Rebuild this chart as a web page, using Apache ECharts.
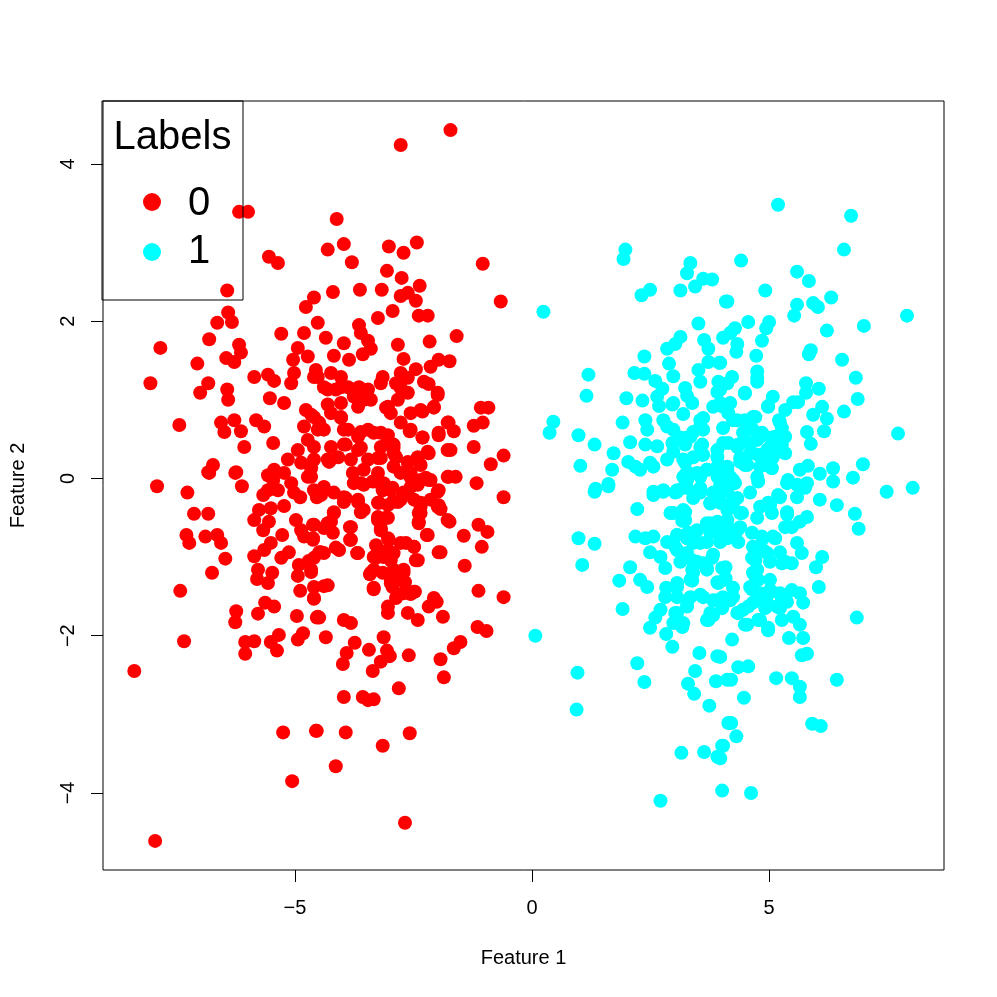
<!DOCTYPE html>
<html>
<head>
<meta charset="utf-8">
<script src="https://cdn.jsdelivr.net/npm/echarts@6.0.0/dist/echarts.min.js"></script>
<style>
  html, body { margin: 0; padding: 0; background: #fff; }
  #main { width: 997px; height: 997px; }
</style>
</head>
<body>
<div id="main"></div>
<script>
// points as [Feature 1, Feature 2]
const label0Points = [
  [-1.72,4.43],[-2.77,4.24],[-6.18,3.39],[-5.99,3.39],[-4.12,3.30],[-4.31,2.91],[-3.97,2.98],[-3.02,2.95],[-2.71,2.87],[-2.43,3.00],
  [-3.80,2.75],[-1.04,2.73],[-5.55,2.82],[-5.36,2.74],[-6.43,2.39],[-6.41,2.11],[-6.33,1.99],[-6.64,1.98],[-5.29,1.84],[-6.81,1.77],
  [-7.84,1.66],[-6.18,1.70],[-6.14,1.60],[-6.45,1.53],[-6.28,1.48],[-7.06,1.46],[-8.05,1.21],[-6.83,1.21],[-7.00,1.09],[-6.43,1.13],
  [-6.41,1.00],[-5.86,1.29],[-5.57,1.32],[-5.44,1.24],[-5.53,1.02],[-5.23,0.96],[-7.44,0.68],[-6.56,0.71],[-6.49,0.59],[-6.28,0.74],
  [-6.14,0.60],[-5.82,0.74],[-5.65,0.66],[-6.07,0.40],[-5.46,0.45],[-6.73,0.17],[-6.83,0.08],[-6.24,0.08],[-5.44,0.11],[-5.57,0.04],
  [-4.77,2.18],[-4.60,2.30],[-4.81,1.85],[-4.52,1.98],[-4.94,1.66],[-4.73,1.55],[-5.04,1.51],[-5.02,1.34],[-5.08,1.21],[-4.60,1.29],
  [-4.56,1.38],[-3.06,2.64],[-2.75,2.55],[-2.37,2.45],[-2.62,2.36],[-2.77,2.32],[-2.45,2.26],[-3.17,2.40],[-3.63,2.40],[-4.20,2.37],
  [-0.66,2.25],[-2.94,2.13],[-3.25,2.04],[-2.39,2.07],[-2.20,2.07],[-3.65,1.95],[-3.61,1.85],[-4.35,1.79],[-3.97,1.72],[-3.46,1.75],
  [-3.40,1.65],[-3.57,1.58],[-2.83,1.70],[-2.16,1.74],[-1.59,1.81],[-4.18,1.56],[-3.86,1.51],[-2.71,1.52],[-1.97,1.51],[-1.74,1.49],
  [-2.14,1.42],[-3.15,1.29],[-2.45,1.39],[-2.77,1.34],[-2.62,1.28],[-4.52,1.29],[-4.24,1.34],[-4.03,1.29],[-4.39,1.16],[-4.14,1.13],
  [-3.88,1.16],[-3.65,1.16],[-3.46,1.13],[-3.76,1.04],[-3.55,1.00],[-2.87,1.21],[-2.77,1.15],[-2.18,1.20],[-1.99,1.06],[-2.31,0.85],
  [-2.07,0.90],[-1.08,0.90],[-0.92,0.90],[-3.08,0.90],[-2.98,0.83],[-4.31,0.94],[-4.03,0.77],[-4.66,0.81],[-4.49,0.71],[-1.23,0.67],
  [-1.04,0.71],[-1.76,0.71],[-1.65,0.60],[-1.97,0.55],[-2.31,0.52],[-2.58,0.60],[-1.23,0.40],[-1.72,0.36],[-2.18,0.32],[-0.60,0.29],
  [-0.87,0.18],[-3.97,0.62],[-3.61,0.59],[-3.34,0.58],[-3.04,0.55],[-3.97,0.43],[-3.61,0.39],[-3.19,0.40],[-2.92,0.43],[-4.60,0.24],
  [-4.28,0.21],[-3.82,0.24],[-3.25,0.26],[-2.92,0.32],[-2.62,0.20],[-2.35,0.17],
  [-1.76,0.02],[-1.61,0.02],[-1.17,-0.06],[-0.60,-0.24],[-2.14,-0.02],[-1.99,-0.17],[-2.35,-0.31],[-1.97,-0.34],[-1.93,-0.39],[-2.39,-0.44],
  [-2.39,-0.55],[-1.74,-0.55],[-2.22,-0.72],[-1.44,-0.73],[-1.13,-0.59],[-0.94,-0.68],[-1.06,-0.87],[-1.97,-0.94],[-1.42,-1.11],[-1.13,-1.43],
  [-0.60,-1.51],[-1.15,-1.89],[-0.96,-1.94],[-1.88,-1.76],[-2.18,-1.63],[-2.01,-1.57],[-2.41,-1.80],[-2.62,-1.71],[-2.56,-1.47],[-2.47,-1.44],
  [-2.87,-1.52],[-3.04,-1.63],[-3.04,-1.71],[-2.45,-1.04],[-2.66,-0.82],[-2.49,-0.87],[-2.71,-1.20],[-2.68,-1.32],[-2.81,-2.67],[-3.13,-2.02],
  [-3.06,-2.19],[-3.00,-2.26],[-3.19,-2.33],[-3.36,-2.45],[-3.44,-2.18],[-3.74,-2.09],[-3.91,-2.22],[-3.99,-2.36],[-4.35,-2.02],[-4.49,-1.77],
  [-3.97,-1.80],[-3.82,-1.84],[-2.60,-2.25],[-1.93,-2.30],[-1.65,-2.16],[-1.51,-2.08],[-1.86,-2.53],[-3.97,-2.78],[-3.57,-2.78],[-3.46,-2.82],
  [-3.34,-2.81],[-4.54,-3.21],[-3.93,-3.23],[-2.58,-3.24],[-3.15,-3.40],[-4.14,-3.66],[-2.68,-4.38],
  [-3.34,-1.16],[-3.15,-1.20],[-2.98,-1.29],[-2.83,-1.20],[-2.71,-1.16],[-2.94,-1.38],[-3.42,-1.22],[-3.34,-1.41],[-3.04,-0.91],[-3.25,-0.91],
  [-3.29,-1.01],[-3.25,-0.53],[-3.08,-0.50],[-3.19,-0.63],[-3.02,-0.78],[-2.98,-1.04],[-4.39,-1.37],[-4.60,-1.52],[-4.52,-1.76],[-4.45,-0.94],
  [-4.14,-0.88],[-4.07,-0.91],[-3.69,-0.95],[-3.84,-0.62],[-3.84,-0.78],[-4.18,-0.43],[-4.24,-0.55],[-4.39,-0.63],[-4.62,-0.59],[-4.62,-0.76],
  [-4.20,-0.69],[-3.97,-0.30],[-3.61,-0.43],[-3.67,-0.27],[-3.97,-0.24],[-4.60,-1.01],[-4.66,-1.16],[-3.76,-0.06],[-3.55,-0.08],[-3.29,-0.04],
  [-3.15,-0.15],[-2.94,-0.12],[-2.83,-0.30],[-2.77,-0.27],[-2.66,-0.18],[-2.41,-0.08],[-2.24,0.01],[-2.56,0.01],[-3.23,-0.31],[-3.04,-0.34],
  [-4.60,-0.15],[-4.45,-0.21],[-4.66,0.02],
  [-7.91,-0.10],[-7.27,-0.18],[-7.13,-0.45],[-6.83,-0.45],[-7.29,-0.72],[-7.23,-0.82],[-6.89,-0.74],[-6.64,-0.72],[-6.56,-0.82],[-6.47,-1.02],
  [-6.75,-1.20],[-7.42,-1.43],[-6.24,-1.69],[-6.26,-1.83],[-7.34,-2.07],[-8.39,-2.45],[-6.05,-2.08],[-5.86,-2.07],[-6.05,-2.23],[-5.78,-1.72],
  [-5.63,-1.58],[-5.44,-1.63],[-5.51,-2.08],[-5.34,-1.99],[-5.38,-2.19],[-4.94,-2.05],[-4.83,-1.97],[-4.96,-1.75],[-4.89,-1.43],[-4.60,-1.53],
  [-4.60,-1.38],[-4.54,-1.77],[-5.86,-0.99],[-5.65,-0.91],[-5.51,-0.82],[-5.13,-0.94],[-5.29,-1.01],[-5.78,-1.16],[-5.80,-1.28],[-5.48,-1.20],
  [-5.57,-1.33],[-4.92,-1.10],[-4.71,-1.05],[-4.94,-1.24],[-4.66,-1.19],[-4.49,-0.94],[-5.27,-0.72],[-5.86,-0.53],[-5.67,-0.66],[-5.76,-0.40],
  [-5.55,-0.55],[-5.51,-0.38],[-5.23,-0.35],[-5.67,-0.21],[-5.57,-0.15],[-5.36,-0.15],[-5.08,-0.06],[-5.02,-0.18],[-4.89,-0.24],[-4.73,0.02],
  [-4.54,-0.24],[-4.98,-0.53],[-4.87,-0.66],[-4.81,-0.74],[-4.60,-0.59],[-4.62,-0.78],[-5.25,-3.23],[-4.56,-3.21],[-5.06,-3.85],[-7.95,-4.61],
  [-6.81,0.07],[-6.26,0.07],[-6.12,-0.10],[-5.46,0.04],[-5.46,-0.02],
  [-4.77,0.87],[-4.60,0.78],[-4.81,0.66],[-4.52,0.62],[-4.73,0.49],[-4.60,0.40],[-4.94,0.36],[-5.15,0.24],[-4.87,0.20],[-4.66,0.13],[-5.23,0.07],
  [-4.31,1.13],[-4.03,1.16],[-3.76,1.09],[-3.40,1.00],[-3.67,0.91],[-4.03,0.96],[-4.24,0.83],[-4.03,0.78],[-3.04,0.91],[-2.83,1.00],
  [-2.62,1.09],[-2.56,0.83],[-2.35,0.87],[-2.07,0.91],[-1.99,1.09],[-2.28,1.23],[-3.19,1.21],[-4.39,0.62],[-4.24,0.40],[-3.88,0.62],
  [-3.67,0.53],[-3.46,0.62],[-3.19,0.58],[-3.04,0.49],[-3.93,0.43],[-3.67,0.36],[-2.92,0.39],[-2.77,0.71],[-2.56,0.62],[-2.31,0.52],
  [-1.97,0.58],[-1.78,0.71],[-1.78,0.36],[-4.31,0.24],[-4.09,0.27],[-3.46,0.24],[-3.19,0.26],[-2.87,0.27],[-2.62,0.21],[-2.41,0.27],
  [-2.20,0.34],[-3.78,0.07],[-3.55,0.11],[-3.25,0.07],[-3.61,-0.06],[-3.36,-0.04],[-3.13,-0.06],[-2.92,0.15],[-2.77,0.07],[-2.56,0.07],
  [-2.35,-0.02],[-2.18,-0.02],[-1.97,-0.15],[-1.78,0.02],[-4.39,-0.11],[-4.18,-0.18],[-3.93,-0.25],[-3.67,-0.30],[-3.55,-0.40],[-3.25,-0.31],
  [-2.98,-0.15],[-2.94,-0.30],[-2.71,-0.18],[-2.56,-0.11],[-2.49,-0.27],[-2.35,-0.36],[-2.14,-0.27],[-1.99,-0.36],[-4.18,-0.44],[-4.31,-0.57],
  [-3.82,-0.62],[-3.25,-0.49],[-3.04,-0.50],[-3.19,-0.66],[-2.35,-0.44],[-2.39,-0.57],[-2.20,-0.72],[-1.78,-0.53],[-4.39,-0.95],[-3.82,-0.78],
  [-3.67,-0.95],[-3.29,-0.85],[-3.04,-0.76],[-2.77,-0.82],[-2.49,-0.87],[-3.34,-1.00],[-3.13,-1.00],[-2.92,-0.95],[-2.41,-1.04],[-1.93,-0.94],
  [-3.40,-1.20],[-2.92,-1.16],[-2.98,-1.33],[-2.77,-1.29],[-3.34,-1.39],[-2.71,-1.46],[-2.49,-1.44],[-4.31,-1.36],[-2.07,-1.52]
];

const label1Points = [
  [1.97,2.91],[1.93,2.79],[3.34,2.74],[3.27,2.61],[3.61,2.54],[3.80,2.53],[3.44,2.44],[3.13,2.39],[2.49,2.40],[2.31,2.33],
  [0.24,2.12],[4.09,2.25],[3.51,1.97],[3.13,1.80],[3.02,1.71],[2.85,1.65],[3.63,1.76],[3.72,1.65],[4.03,1.79],[2.37,1.55],
  [2.89,1.46],[2.98,1.30],[3.72,1.48],[3.95,1.47],[3.51,1.38],[1.19,1.32],[1.15,1.05],[2.16,1.34],[2.37,1.33],[2.60,1.24],
  [2.75,1.14],[3.23,1.15],[3.27,1.05],[3.38,0.96],[3.55,1.23],[3.93,1.23],[3.91,1.10],[1.99,1.02],[2.33,0.99],[2.64,1.04],
  [2.68,0.92],[2.96,0.94],[3.19,0.82],[2.77,0.74],[2.85,0.66],[3.82,0.91],[4.03,0.91],[2.39,0.74],[2.43,0.62],[3.55,0.74],
  [3.61,0.62],[3.40,0.59],[4.03,0.64],[0.45,0.72],[0.37,0.58],[0.98,0.55],[1.32,0.43],[1.91,0.71],[2.07,0.46],[1.72,0.32],
  [1.02,0.16],[1.69,0.11],[1.61,-0.07],[1.34,-0.13],[2.39,0.43],[2.64,0.41],[2.96,0.45],[2.98,0.34],[3.27,0.52],[3.23,0.43],
  [3.55,0.40],[3.59,0.30],[2.03,0.21],[2.18,0.15],[2.28,0.11],[2.49,0.20],[2.56,0.15],[2.85,0.24],[3.23,0.20],[3.29,0.07],
  [3.19,0.02],[3.40,0.27],[3.69,0.11],[3.55,0.02],[3.91,0.27],[3.91,0.15],[3.97,-0.02],[2.56,-0.17],[2.77,-0.15],[3.06,-0.17],
  [3.27,-0.12],[3.55,-0.15],
  [5.19,3.48],[6.73,3.34],[6.58,2.91],[4.41,2.77],[5.59,2.63],[5.84,2.51],[4.92,2.39],[4.12,2.25],[5.59,2.21],[5.53,2.07],
  [5.93,2.23],[6.03,2.18],[6.31,2.30],[7.91,2.07],[7.00,1.94],[6.22,1.88],[4.56,1.99],[4.28,1.91],[4.18,1.85],[5.00,1.99],
  [4.94,1.91],[4.85,1.75],[4.33,1.71],[4.31,1.61],[5.88,1.63],[5.84,1.58],[4.73,1.56],[6.54,1.51],[3.97,1.47],[4.75,1.36],
  [4.75,1.28],[4.22,1.29],[4.12,1.21],[6.83,1.28],[5.78,1.21],[5.78,1.09],[6.05,1.14],[4.49,1.08],[5.08,1.04],[4.98,0.92],
  [5.51,0.97],[5.61,0.97],[6.87,1.01],[6.58,0.85],[6.12,0.91],[5.93,0.81],[6.22,0.76],[6.16,0.60],[5.80,0.59],[5.88,0.44],
  [3.97,0.96],[4.18,0.96],[4.24,0.74],[4.49,0.74],[4.66,0.78],[5.21,0.74],[5.27,0.64],[5.34,0.53],[5.13,0.53],[5.02,0.40],
  [5.27,0.43],[4.87,0.55],[4.66,0.62],[4.03,0.45],[4.33,0.40],[4.54,0.46],[4.60,0.32],[4.39,0.21],[4.49,0.17],[4.87,0.27],
  [4.81,0.15],[5.08,0.27],[5.06,0.13],[4.75,0.02],[4.77,-0.04],[5.65,0.11],[5.82,0.16],[6.07,0.06],[6.35,0.13],[6.35,-0.04],
  [6.77,0.01],[6.98,0.18],[7.72,0.57],[8.03,-0.12],[7.48,-0.17],[5.40,-0.02],[5.59,-0.08],[5.80,-0.06],[4.12,0.15],[4.18,0.02],[4.28,-0.06],
  [1.32,-0.17],[1.61,-0.10],[2.56,-0.21],[2.77,-0.17],[3.02,-0.18],[3.19,-0.12],[3.40,-0.25],[3.55,-0.18],[2.22,-0.39],[2.92,-0.44],
  [3.23,-0.43],[3.17,-0.54],[3.76,-0.32],[3.97,-0.31],[4.03,-0.17],[3.97,-0.08],[0.98,-0.76],[1.32,-0.83],[1.06,-1.10],[2.18,-0.74],
  [2.39,-0.76],[2.56,-0.74],[2.49,-0.94],[2.85,-0.81],[3.06,-0.72],[3.27,-0.76],[3.44,-0.69],[3.40,-0.82],[3.69,-0.81],[3.76,-0.57],
  [3.93,-0.62],[3.97,-0.81],[2.71,-1.00],[2.81,-1.14],[3.06,-0.91],[3.19,-1.01],[3.38,-1.16],[3.48,-1.06],[3.80,-1.01],[3.69,-1.14],
  [4.01,-1.14],[2.07,-1.13],[1.84,-1.30],[2.28,-1.29],[2.43,-1.38],[2.83,-1.39],[2.81,-1.51],[3.06,-1.38],[3.38,-1.30],[3.93,-1.33],
  [3.34,-1.51],[3.27,-1.58],[3.61,-1.51],[3.91,-1.55],[4.01,-1.65],[1.91,-1.66],[2.71,-1.67],[2.60,-1.77],[2.49,-1.90],[3.02,-1.71],
  [2.98,-1.84],[3.17,-1.89],[2.83,-1.98],[2.96,-2.14],[3.72,-1.80],[3.82,-1.74],[0.07,-2.00],[2.22,-2.35],[2.37,-2.59],[0.96,-2.47],
  [0.94,-2.94],[3.53,-2.22],[3.91,-2.26],[3.44,-2.45],[3.29,-2.61],[3.42,-2.74],[3.88,-2.58],[4.12,-2.56],[3.74,-2.89],[4.14,-3.11],
  [3.15,-3.49],[3.63,-3.48],[3.91,-3.54],[4.01,-3.40],[4.01,-3.97],[2.71,-4.10],
  [6.07,-0.27],[6.43,-0.34],[6.81,-0.45],[6.89,-0.64],[4.60,-0.18],[5.38,-0.06],[5.59,-0.24],[5.76,-0.12],[5.19,-0.21],[4.98,-0.31],
  [5.06,-0.44],[4.75,-0.50],[5.38,-0.46],[5.48,-0.62],[5.65,-0.55],[5.80,-0.49],[4.12,-0.11],[4.24,-0.27],[4.12,-0.40],[4.39,-0.44],
  [4.03,-0.62],[4.33,-0.66],[4.64,-0.69],[4.87,-0.76],[5.13,-0.76],[4.35,-0.81],[4.12,-0.76],[4.66,-0.87],[4.64,-1.01],[4.87,-0.91],
  [5.23,-0.94],[5.59,-0.82],[5.69,-0.95],[5.48,-1.08],[5.02,-1.06],[5.27,-1.08],[4.75,-1.16],[4.71,-1.25],[6.12,-1.00],[5.99,-1.13],
  [6.05,-1.38],[4.08,-1.13],[4.08,-1.27],[4.24,-1.39],[4.64,-1.41],[5.06,-1.44],[5.48,-1.42],[5.65,-1.46],[5.72,-1.58],[5.27,-1.52],
  [5.23,-1.65],[4.81,-1.55],[4.92,-1.65],[4.56,-1.63],[4.18,-1.55],[4.35,-1.71],[4.49,-1.86],[4.77,-1.80],[4.98,-1.93],[5.51,-1.76],
  [5.65,-1.86],[4.22,-2.05],[5.42,-2.03],[5.72,-2.03],[5.69,-2.25],[5.80,-2.23],[6.85,-1.77],[3.97,-2.27],[4.35,-2.40],[4.56,-2.39],
  [4.20,-2.56],[5.15,-2.54],[5.48,-2.54],[5.65,-2.65],[5.65,-2.78],[6.43,-2.56],[4.47,-2.79],[4.20,-3.11],[4.31,-3.28],[5.91,-3.12],
  [6.09,-3.15],[4.03,-3.40],[3.97,-3.56],[4.62,-4.00],
  [3.97,1.13],[4.49,1.09],[4.75,1.23],[4.98,0.91],[5.23,0.71],[5.34,0.87],[2.98,0.96],[3.61,0.77],[3.55,0.66],[4.14,0.83],
  [4.33,0.74],[4.54,0.66],[4.71,0.78],[4.45,0.58],[4.85,0.58],[5.06,0.52],[5.23,0.55],[2.98,0.62],[3.13,0.52],[3.34,0.53],
  [3.59,0.43],[3.91,0.36],[4.14,0.45],[4.35,0.43],[4.60,0.43],[4.75,0.49],[4.96,0.36],[5.17,0.40],[5.34,0.32],[3.19,0.24],
  [3.61,0.30],[3.27,0.08],[3.48,0.07],[3.69,0.11],[3.93,0.17],[4.12,0.11],[4.39,0.26],[4.54,0.17],[4.77,0.30],[4.87,0.17],
  [5.02,0.15],[4.24,-0.02],[4.03,-0.06],[3.91,0.02],[3.27,-0.02],[3.06,-0.15],[3.40,-0.18],[3.55,-0.12],[3.82,-0.18],[4.12,-0.15],
  [4.33,-0.25],[4.81,-0.36],[5.02,-0.34],[5.23,-0.24],[5.38,-0.43],[3.76,-0.31],[4.24,-0.36],[4.43,-0.44],[2.98,-0.44],[3.19,-0.40],
  [3.23,-0.53],[3.69,-0.57],[3.91,-0.55],[4.12,-0.53],[3.76,-0.69],[3.97,-0.72],[4.22,-0.66],[4.39,-0.62],[4.85,-0.74],[5.08,-0.74],
  [5.34,-0.62],[3.06,-0.72],[3.29,-0.69],[3.48,-0.66],[3.02,-0.87],[3.27,-0.95],[3.55,-0.82],[4.71,-1.04],[4.96,-0.95],[5.34,-1.06],
  [3.13,-1.06],[3.38,-1.04],[3.61,-1.08],[3.82,-0.97],[3.34,-1.29],[3.40,-1.20],[3.69,-1.16],[4.08,-1.29],[3.91,-1.32],[4.66,-1.20],
  [4.77,-1.29],[4.60,-1.38],[5.02,-1.42],[5.23,-1.46],[5.02,-1.29],[3.06,-1.33],[3.06,-1.51],[3.55,-1.48],[3.27,-1.63],[3.82,-1.55],
  [4.03,-1.51],[4.24,-1.51],[4.45,-1.67],[4.66,-1.58],[4.81,-1.46],[4.96,-1.58],[5.17,-1.63],[5.38,-1.57],[3.06,-1.71],[3.19,-1.84],
  [3.69,-1.80],[3.76,-1.71],[4.33,-1.71],[4.54,-1.86],[4.81,-1.80],[4.98,-1.90],[5.27,-1.80]
];

const xTicks = [-5, 0, 5];
const yTicks = [-4, -2, 0, 2, 4];
const xRange = [-9.05, 8.69];
const yRange = [-4.98, 4.80];
const legendTitle = 'Labels';
const legendLabels = ['0', '1'];
const colors = ['#ff0000', '#00ffff'];

const FONT = '"Liberation Sans", Arial, Helvetica, sans-serif';
const fmt = v => (v < 0 ? '\u2212' + Math.abs(v) : String(v));

const chart = echarts.init(document.getElementById('main'));

const option = {
  backgroundColor: '#fff',
  animation: false,
  textStyle: { fontFamily: FONT },
  grid: {
    left: 102, top: 101, width: 842, height: 769,
    show: true, borderColor: '#000', borderWidth: 1, backgroundColor: 'transparent'
  },
  xAxis: {
    type: 'value',
    min: xRange[0], max: xRange[1],
    name: 'Feature 1',
    nameLocation: 'middle',
    nameGap: 78,
    nameTextStyle: { fontSize: 20, color: '#000', fontFamily: FONT },
    axisLine: { show: false, onZero: false },
    splitLine: { show: false },
    axisTick: { show: true, length: 12, customValues: xTicks, lineStyle: { color: '#000', width: 1 } },
    axisLabel: { customValues: xTicks, formatter: fmt, fontSize: 20, color: '#000', margin: 28, fontFamily: FONT }
  },
  yAxis: {
    type: 'value',
    min: yRange[0], max: yRange[1],
    name: 'Feature 2',
    nameLocation: 'middle',
    nameRotate: 90,
    nameGap: 75,
    nameTextStyle: { fontSize: 20, color: '#000', fontFamily: FONT },
    axisLine: { show: false, onZero: false },
    splitLine: { show: false },
    axisTick: { show: true, length: 12, customValues: yTicks, lineStyle: { color: '#000', width: 1 } },
    axisLabel: { customValues: yTicks, formatter: fmt, rotate: 90, fontSize: 20, color: '#000', margin: 25, fontFamily: FONT }
  },
  series: [
    {
      name: legendLabels[0], type: 'scatter', data: label0Points,
      symbol: 'circle', symbolSize: 14, itemStyle: { color: colors[0], opacity: 1 },
      emphasis: { disabled: true }, silent: true
    },
    {
      name: legendLabels[1], type: 'scatter', data: label1Points,
      symbol: 'circle', symbolSize: 14, itemStyle: { color: colors[1], opacity: 1 },
      emphasis: { disabled: true }, silent: true
    }
  ],
  graphic: [
    { type: 'rect', z: 100, silent: true, shape: { x: 102, y: 101, width: 141, height: 199 },
      style: { fill: 'none', stroke: '#000', lineWidth: 1 } },
    { type: 'text', z: 100, silent: true, x: 172.5, y: 138,
      style: { text: legendTitle, fontSize: 40, fontFamily: FONT, fill: '#000', textAlign: 'center', textVerticalAlign: 'middle' } },
    { type: 'circle', z: 100, silent: true, shape: { cx: 152, cy: 202, r: 9 }, style: { fill: colors[0] } },
    { type: 'text', z: 100, silent: true, x: 188, y: 204,
      style: { text: legendLabels[0], fontSize: 40, fontFamily: FONT, fill: '#000', textAlign: 'left', textVerticalAlign: 'middle' } },
    { type: 'circle', z: 100, silent: true, shape: { cx: 152, cy: 252, r: 9 }, style: { fill: colors[1] } },
    { type: 'text', z: 100, silent: true, x: 188, y: 252,
      style: { text: legendLabels[1], fontSize: 40, fontFamily: FONT, fill: '#000', textAlign: 'left', textVerticalAlign: 'middle' } }
  ]
};

chart.setOption(option);
</script>
</body>
</html>
